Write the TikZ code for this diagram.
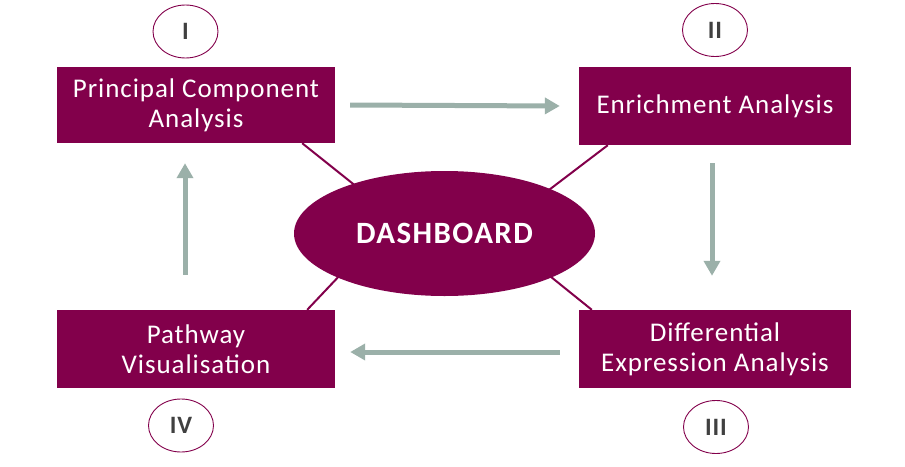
\documentclass[tikz,border=0pt]{standalone}
\usepackage{fontspec}
\setmainfont{Carlito}
\newfontfamily\spacedfont[LetterSpace=3.5]{Carlito}
\newfontfamily\headfont[LetterSpace=4.5]{Carlito}
\usetikzlibrary{arrows.meta,shapes.geometric,backgrounds}
\definecolor{plum}{HTML}{82004B}
\definecolor{sage}{HTML}{9BB0A9}
\definecolor{numgray}{HTML}{404040}
\begin{document}
\begin{tikzpicture}[x=1pt,y=-1pt,
  box/.style={fill=plum,text=white,align=center,inner sep=0pt,
    font=\spacedfont\fontsize{27}{30}\selectfont},
  num/.style={ellipse,draw=plum,line width=0.9pt,minimum width=65pt,minimum height=53pt,
    inner sep=0pt,text=numgray,font=\spacedfont\fontsize{25}{25}\selectfont\bfseries},
  flow/.style={draw=sage,line width=5pt,-{Triangle[length=15pt,width=16pt]}},
  spoke/.style={draw=plum,line width=2pt}]
\useasboundingbox (0,0) rectangle (905,466);
\node[box,minimum width=278pt,minimum height=76pt] (pca) at (196,105) {Principal Component\\Analysis};
\node[box,minimum width=272pt,minimum height=78pt] (ea) at (715,106) {Enrichment Analysis};
\node[box,minimum width=278pt,minimum height=78pt] (pv) at (196,349) {Pathway\\Visualisation};
\node[box,minimum width=272pt,minimum height=78pt] (dea) at (715,349) {Differential\\Expression Analysis};
\node[ellipse,fill=plum,text=white,minimum width=301pt,minimum height=125pt,inner sep=0pt,
  font=\headfont\fontsize{31}{31}\selectfont\bfseries] (dash) at (444.5,233.5) {DASHBOARD};
\node[num] (n1) at (185.5,31.5) {I};
\node[num] (n2) at (715,30) {II};
\node[num] (n3) at (716,427) {III};
\node[num] (n4) at (181,425.5) {IV};
\coordinate (h1) at (377,203);
\coordinate (h2) at (520,212);
\coordinate (h3) at (360,254);
\coordinate (h4) at (530,260);
\begin{scope}[on background layer]
\draw[spoke] ([xshift=-33pt]pca.south east) -- (h1);
\draw[spoke] ([xshift=29pt]ea.south west) -- (h2);
\draw[spoke] ([xshift=-28pt]pv.north east) -- (h3);
\draw[spoke] ([xshift=13pt]dea.north west) -- (h4);
\end{scope}
\draw[flow] ([xshift=15pt]pca.east) -- ([xshift=-19pt]ea.west);
\draw[flow] ([xshift=-3pt,yshift=-18pt]ea.south) -- ([xshift=-3pt,yshift=34pt]dea.north);
\draw[flow] ([xshift=-19pt,yshift=-3pt]dea.west) -- ([xshift=15pt,yshift=-3pt]pv.east);
\draw[flow] ([xshift=-11pt,yshift=35pt]pv.north) -- ([xshift=-11pt,yshift=-20pt]pca.south);
\end{tikzpicture}
\end{document}
